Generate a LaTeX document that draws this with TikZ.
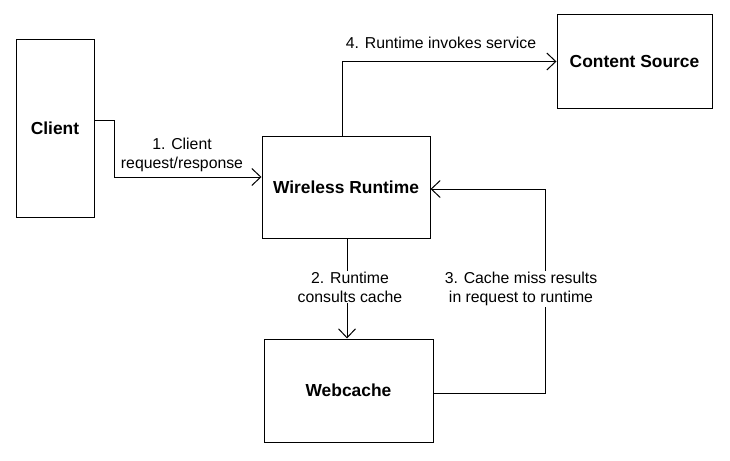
\documentclass[tikz,border=0pt]{standalone}
\usepackage{fontspec}
\setmainfont{Liberation Sans}
\usetikzlibrary{arrows.meta}
\begin{document}
\begin{tikzpicture}[x=1pt,y=-1pt,
 box/.style={draw, line width=1pt, inner sep=0pt, font=\bfseries\fontsize{17.4}{20}\selectfont},
 lbl/.style={font=\fontsize{15.8}{19}\selectfont, align=center, inner sep=1pt},
 conn/.style={draw, line width=1pt, -{Straight Barb[length=9pt,width=17pt]}}]
\useasboundingbox[fill=white] (0,0) rectangle (730,460);
\node[box, minimum width=78pt, minimum height=177pt] (client) at (55,128.5) {Client};
\node[box, minimum width=168pt, minimum height=102pt] (wr) at (346,187) {Wireless Runtime};
\node[box, minimum width=169pt, minimum height=103pt] (wc) at (348.5,390.5) {Webcache};
\node[box, minimum width=155pt, minimum height=93pt] (cs) at (634.5,61.5) {Content Source};
\coordinate (c3) at (545,189);
\draw[conn] ([yshift=8.5pt]client.east) -- ++(20,0) |- ([yshift=10pt]wr.west);
\node[lbl] (l1) at (182,155) {1. Client\\request/response};
\draw[conn] ([xshift=-4pt]wr.north) |- (cs.west);
\node[lbl] (l4) at (441,43) {4. Runtime invokes service};
\draw[conn] ([xshift=1pt]wr.south) -- ([xshift=1pt]wr.south |- wc.north);
\node[lbl, fill=white] (l2) at (350,287) {2. Runtime\\consults cache};
\draw[conn] ([yshift=-2.5pt]wc.east) -| (c3) -- ([yshift=-2pt]wr.east);
\node[lbl, fill=white] (l3) at (521,289) {3. Cache miss results\\in request to runtime};
\end{tikzpicture}
\end{document}
